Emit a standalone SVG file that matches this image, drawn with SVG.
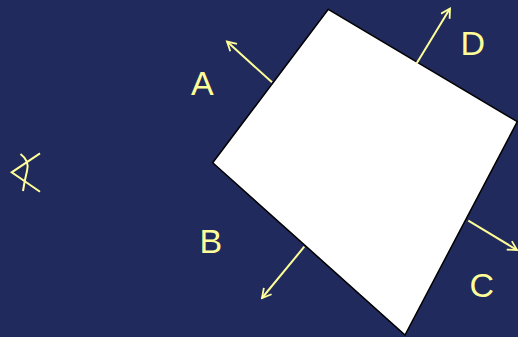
<svg xmlns="http://www.w3.org/2000/svg" width="518" height="337" viewBox="0 0 518 337">
<defs>
<marker id="ah" viewBox="0 0 12 12" refX="10" refY="6" markerWidth="12" markerHeight="12" markerUnits="userSpaceOnUse" orient="auto">
<path d="M1,1 L10,6 L1,11" fill="none" stroke="#ffff99" stroke-width="1.8"/>
</marker>
</defs>
<style>
.lbl{font-family:"Liberation Sans",Arial,sans-serif;font-size:34px;fill:#ffff99}
.arr{stroke:#ffff99;stroke-width:2;fill:none;marker-end:url(#ah)}
.sym{stroke:#ffff99;stroke-width:2;fill:none}
</style>
<rect x="0" y="0" width="518" height="337" fill="#212a5c"/>
<g id="quad">
<polygon points="328.3,9.3 517.3,121.7 405,335 212.7,162.7" fill="#ffffff" stroke="#000000" stroke-width="1.5"/>
</g>
<g id="connectors">
<line class="arr" x1="272" y1="82.3" x2="227" y2="41.5"/>
<line class="arr" x1="416.7" y1="63.3" x2="450" y2="8.5"/>
<line class="arr" x1="468.3" y1="220.7" x2="517" y2="250"/>
<line class="arr" x1="304.3" y1="246.7" x2="262" y2="298"/>
</g>
<g id="labelA"><text class="lbl" x="191" y="94.5">A</text></g>
<g id="labelD"><text class="lbl" x="460.5" y="54.5">D</text></g>
<g id="labelB"><text class="lbl" x="199.5" y="253">B</text></g>
<g id="labelC"><text class="lbl" x="469.5" y="296.5">C</text></g>
<g id="symbol">
<path class="sym" d="M40,153.3 L11.7,172.3 L40,191.7"/>
<path class="sym" d="M20.5,154 Q30,161 27,171 Q24.5,181 23,191"/>
</g>
</svg>
